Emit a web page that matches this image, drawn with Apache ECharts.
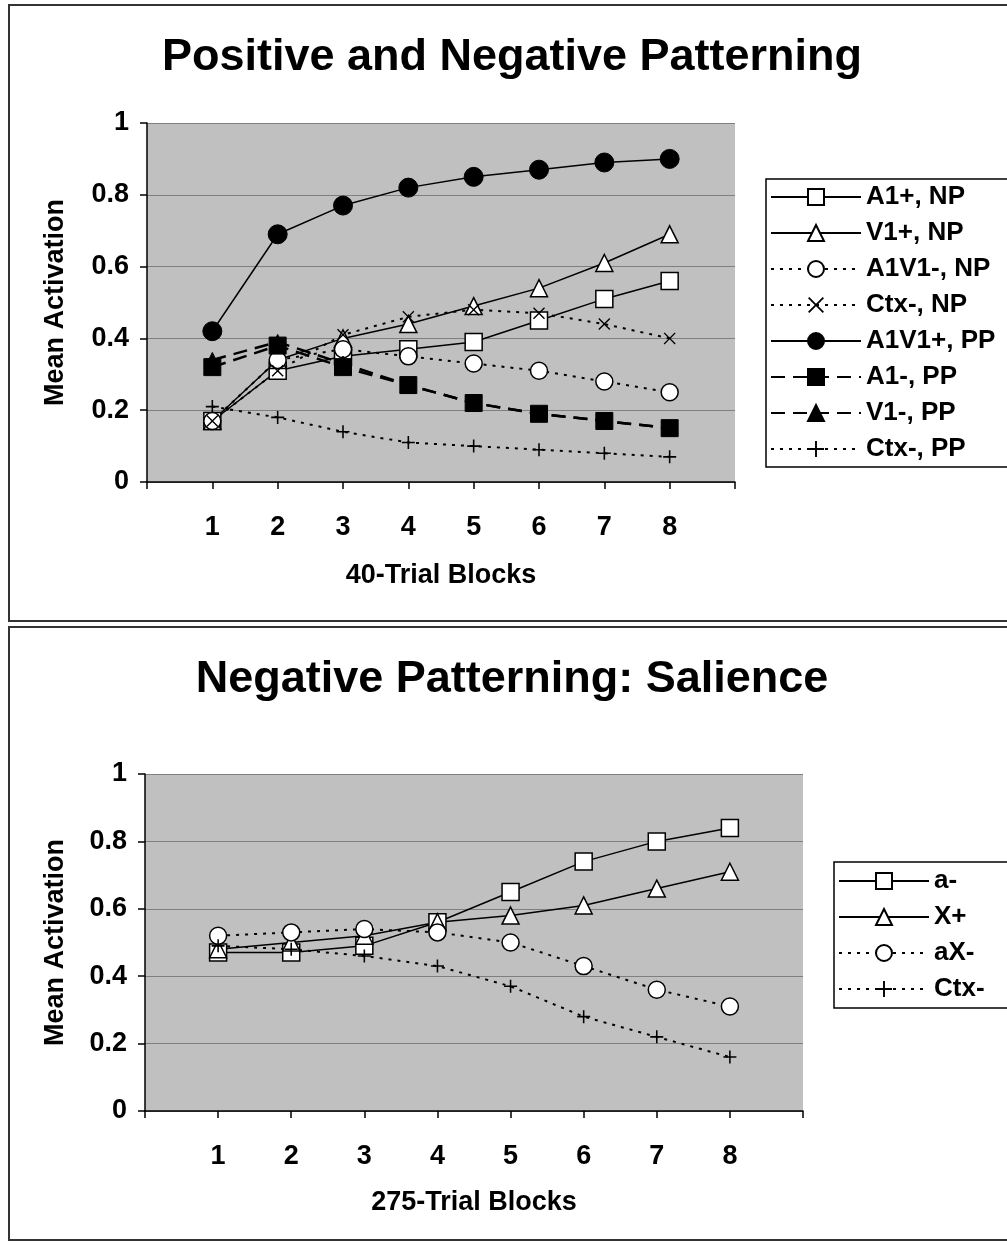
<!DOCTYPE html>
<html>
<head>
<meta charset="utf-8">
<script src="https://cdn.jsdelivr.net/npm/echarts@6/dist/echarts.min.js"></script>
<style>
  html, body { margin: 0; padding: 0; background: #fff; }
  #chart { width: 1007px; height: 1245px; }
</style>
</head>
<body>
<div id="chart"></div>
<script>
// trial blocks on the x axis
const blocks = [1, 2, 3, 4, 5, 6, 7, 8];
const yTicks = [0, 0.2, 0.4, 0.6, 0.8, 1];

// top chart: positive and negative patterning
const a1PlusNP = [0.17, 0.31, 0.35, 0.37, 0.39, 0.45, 0.51, 0.56];
const v1PlusNP = [0.17, 0.34, 0.40, 0.44, 0.49, 0.54, 0.61, 0.69];
const a1v1MinusNP = [0.17, 0.34, 0.37, 0.35, 0.33, 0.31, 0.28, 0.25];
const ctxMinusNP = [0.17, 0.31, 0.41, 0.46, 0.48, 0.47, 0.44, 0.40];
const a1v1PlusPP = [0.42, 0.69, 0.77, 0.82, 0.85, 0.87, 0.89, 0.90];
const a1MinusPP = [0.32, 0.38, 0.32, 0.27, 0.22, 0.19, 0.17, 0.15];
const v1MinusPP = [0.34, 0.39, 0.33, 0.27, 0.22, 0.19, 0.17, 0.15];
const ctxMinusPP = [0.21, 0.18, 0.14, 0.11, 0.10, 0.09, 0.08, 0.07];

// bottom chart: negative patterning, salience
const aMinus = [0.47, 0.47, 0.49, 0.56, 0.65, 0.74, 0.80, 0.84];
const xPlus = [0.48, 0.50, 0.52, 0.56, 0.58, 0.61, 0.66, 0.71];
const aXMinus = [0.52, 0.53, 0.54, 0.53, 0.50, 0.43, 0.36, 0.31];
const ctxMinus = [0.49, 0.48, 0.46, 0.43, 0.37, 0.28, 0.22, 0.16];

const FONT = "'Liberation Sans', Arial, sans-serif";
const PLUS = "path://M4.4,0H5.6V4.4H10V5.6H5.6V10H4.4V5.6H0V4.4H4.4Z";
const CROSS = "path://M0,0.8L0.8,0L5,4.2L9.2,0L10,0.8L5.8,5L10,9.2L9.2,10L5,5.8L0.8,10L0,9.2L4.2,5Z";

const pairs = (vals) => blocks.map((b, i) => [b, vals[i]]);

const open = { color: "#fff", borderColor: "#000", borderWidth: 1.5 };
const filled = { color: "#000", borderColor: "#000", borderWidth: 1 };
const solid = { color: "#000", width: 1.5, type: "solid" };
const dotted = { color: "#000", width: 2, type: [3, 6] };
const dashed = { color: "#000", width: 2.5, type: [14, 8] };

function line(name, vals, symbol, size, item, lineStyle, idx) {
  return {
    name: name,
    type: "line",
    xAxisIndex: idx,
    yAxisIndex: idx,
    data: pairs(vals),
    symbol: symbol,
    symbolSize: size,
    showAllSymbol: true,
    itemStyle: item,
    lineStyle: lineStyle,
    emphasis: { disabled: true },
  };
}

const xAxisBase = (idx, name, gap) => ({
  gridIndex: idx,
  type: "value",
  min: 0,
  max: 9,
  interval: 1,
  name: name,
  nameLocation: "middle",
  nameGap: gap,
  nameTextStyle: { fontFamily: FONT, fontWeight: "bold", fontSize: 27, color: "#000" },
  axisLine: { lineStyle: { color: "#000", width: 1.5 } },
  axisTick: { show: true, length: 7, lineStyle: { color: "#000", width: 1.5 } },
  axisLabel: {
    margin: 32,
    fontFamily: FONT,
    fontWeight: "bold",
    fontSize: 27,
    color: "#000",
    formatter: (v) => (blocks.indexOf(v) >= 0 ? String(v) : ""),
  },
  splitLine: { show: false },
});

const yAxisBase = (idx, gap) => ({
  gridIndex: idx,
  type: "value",
  min: yTicks[0],
  max: yTicks[yTicks.length - 1],
  interval: 0.2,
  name: "Mean Activation",
  nameLocation: "middle",
  nameGap: gap,
  nameRotate: 90,
  nameTextStyle: { fontFamily: FONT, fontWeight: "bold", fontSize: 27, color: "#000" },
  axisLine: { show: true, lineStyle: { color: "#000", width: 1.5 } },
  axisTick: { show: true, length: 7, lineStyle: { color: "#000", width: 1.5 } },
  axisLabel: { margin: 18, fontFamily: FONT, fontWeight: "bold", fontSize: 27, color: "#000" },
  splitLine: { show: true, lineStyle: { color: "#7f7f7f", width: 1 } },
});

const legendText = { fontFamily: FONT, fontWeight: "bold", fontSize: 26, lineHeight: 26, color: "#000" };

const chart = echarts.init(document.getElementById("chart"));

chart.setOption({
  animation: false,
  backgroundColor: "#fff",
  graphic: [
    { type: "rect", shape: { x: 9, y: 5, width: 1010, height: 616 }, style: { fill: "none", stroke: "#333", lineWidth: 2 } },
    { type: "rect", shape: { x: 9, y: 627, width: 1010, height: 613 }, style: { fill: "none", stroke: "#333", lineWidth: 2 } },
  ],
  title: [
    {
      text: "Positive and Negative Patterning",
      left: 512,
      top: 35,
      padding: 0,
      textAlign: "center",
      textStyle: { fontFamily: FONT, fontWeight: "bold", fontSize: 45, color: "#000" },
    },
    {
      text: "Negative Patterning: Salience",
      left: 512,
      top: 657,
      padding: 0,
      textAlign: "center",
      textStyle: { fontFamily: FONT, fontWeight: "bold", fontSize: 45, color: "#000" },
    },
  ],
  grid: [
    { left: 147, top: 123, width: 588, height: 359, show: true, backgroundColor: "#c0c0c0", borderWidth: 0 },
    { left: 145, top: 774, width: 658, height: 337, show: true, backgroundColor: "#c0c0c0", borderWidth: 0 },
  ],
  xAxis: [xAxisBase(0, "40-Trial Blocks", 80), xAxisBase(1, "275-Trial Blocks", 78)],
  yAxis: [yAxisBase(0, 78), yAxisBase(1, 76)],
  legend: [
    {
      data: ["A1+, NP", "V1+, NP", "A1V1-, NP", "Ctx-, NP", "A1V1+, PP", "A1-, PP", "V1-, PP", "Ctx-, PP"],
      orient: "vertical",
      align: "left",
      left: 766,
      top: 179,
      padding: [5, 40, 5, 4],
      itemWidth: 90,
      itemHeight: 20,
      itemGap: 10,
      borderColor: "#000",
      borderWidth: 1.5,
      backgroundColor: "#fff",
      selectedMode: false,
      textStyle: legendText,
    },
    {
      data: ["a-", "X+", "aX-", "Ctx-"],
      orient: "vertical",
      align: "left",
      left: 834,
      top: 862,
      padding: [6, 80, 6, 4],
      itemWidth: 90,
      itemHeight: 20,
      itemGap: 10,
      borderColor: "#000",
      borderWidth: 1.5,
      backgroundColor: "#fff",
      selectedMode: false,
      textStyle: legendText,
    },
  ],
  series: [
    line("A1+, NP", a1PlusNP, "rect", 17, open, solid, 0),
    line("V1+, NP", v1PlusNP, "triangle", 17, open, solid, 0),
    line("A1V1-, NP", a1v1MinusNP, "circle", 17, open, dotted, 0),
    line("Ctx-, NP", ctxMinusNP, CROSS, 12, { color: "#000" }, dotted, 0),
    line("A1V1+, PP", a1v1PlusPP, "circle", 19, filled, solid, 0),
    line("A1-, PP", a1MinusPP, "rect", 17, filled, dashed, 0),
    line("V1-, PP", v1MinusPP, "triangle", 15, filled, dashed, 0),
    line("Ctx-, PP", ctxMinusPP, PLUS, 13, { color: "#000" }, dotted, 0),
    line("a-", aMinus, "rect", 17, open, solid, 1),
    line("X+", xPlus, "triangle", 17, open, solid, 1),
    line("aX-", aXMinus, "circle", 17, open, dotted, 1),
    line("Ctx-", ctxMinus, PLUS, 13, { color: "#000" }, dotted, 1),
  ],
});
</script>
</body>
</html>
